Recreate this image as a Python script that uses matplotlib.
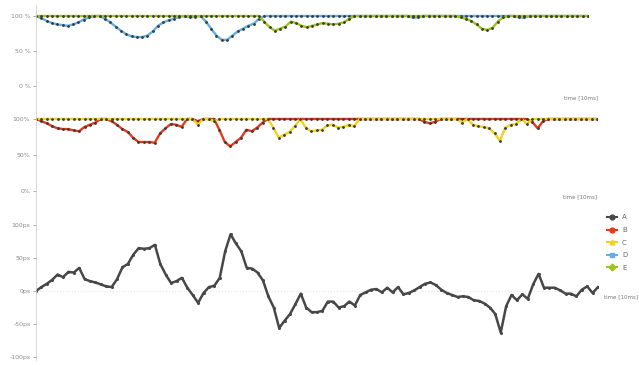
import numpy as np
import matplotlib
matplotlib.use('Agg')
import matplotlib.pyplot as plt
from matplotlib.lines import Line2D

# time axis (samples, unit 10ms)
time = np.arange(105)

# top panel: D and E (percent)
d_pct = [100, 97, 93, 90, 88, 87, 86, 88, 91, 95,
         98, 100, 100, 96, 91, 85, 79, 74, 71, 70,
         70, 72, 78, 86, 91, 94, 96, 99, 100, 98,
         99, 100, 92, 82, 72, 66, 66, 72, 78, 82,
         86, 89, 96, 100, 100, 100, 100, 100, 100, 100,
         100, 100, 100, 100, 100, 100, 100, 100, 100, 100,
         100, 100, 100, 100, 100, 100, 100, 100, 100, 100,
         100, 98, 98, 100, 100, 100, 100, 100, 100, 100,
         100, 100, 100, 100, 100, 100, 100, 100, 100, 100,
         100, 98, 98, 100, 100, 100, 100, 100, 100, 100,
         100, 100, 100, 100, 100]
e_pct = [100, 100, 100, 100, 100, 100, 100, 100, 100, 100,
         100, 100, 100, 100, 100, 100, 100, 100, 100, 100,
         100, 100, 100, 100, 100, 100, 100, 100, 100, 100,
         100, 100, 100, 100, 100, 100, 100, 100, 100, 100,
         100, 100, 100, 92, 84, 79, 82, 85, 92, 90,
         86, 84, 86, 88, 90, 89, 88, 89, 91, 96,
         100, 100, 100, 100, 100, 100, 100, 100, 100, 100,
         100, 100, 100, 100, 100, 100, 100, 100, 100, 100,
         98, 96, 93, 88, 82, 80, 83, 92, 98, 100,
         100, 100, 100, 100, 100, 100, 100, 100, 100, 100,
         100, 100, 100, 100, 100]

# middle panel: B and C (percent)
b_pct = [100, 97, 94, 90, 87, 86, 86, 84, 83, 89,
         92, 95, 100, 100, 97, 92, 86, 82, 74, 68,
         68, 68, 67, 80, 87, 93, 92, 89, 100, 100,
         97, 100, 100, 100, 85, 68, 62, 68, 74, 85,
         83, 88, 95, 100, 100, 100, 100, 100, 100, 100,
         100, 100, 100, 100, 100, 100, 100, 100, 100, 100,
         100, 100, 100, 100, 100, 100, 100, 100, 100, 100,
         100, 100, 96, 94, 96, 100, 100, 100, 100, 100,
         100, 100, 100, 100, 100, 100, 100, 100, 100, 100,
         100, 100, 96, 87, 97, 100, 100, 100, 100, 100,
         100, 100, 100, 100, 100]
c_pct = [100, 100, 100, 100, 100, 100, 100, 100, 100, 100,
         100, 100, 100, 100, 100, 100, 100, 100, 100, 100,
         100, 100, 100, 100, 100, 100, 100, 100, 100, 100,
         92, 100, 100, 97, 100, 100, 100, 100, 100, 100,
         100, 100, 100, 100, 88, 74, 78, 82, 90, 100,
         88, 83, 84, 85, 91, 92, 88, 89, 92, 90,
         100, 100, 100, 100, 100, 100, 100, 100, 100, 100,
         100, 100, 100, 100, 100, 100, 100, 100, 100, 95,
         100, 92, 90, 89, 87, 80, 70, 88, 92, 93,
         100, 93, 100, 100, 100, 100, 100, 100, 100, 100,
         100, 100, 100, 100, 100]

# bottom panel: A (ps)
a_ps = [0, 6, 11, 17, 25, 21, 29, 28, 35, 18,
        15, 13, 10, 7, 6, 18, 36, 41, 55, 65,
        64, 65, 70, 41, 25, 12, 15, 20, 5, -6,
        -18, -3, 6, 8, 20, 60, 86, 72, 60, 35,
        34, 28, 16, -8, -25, -56, -45, -35, -20, -4,
        -25, -32, -32, -30, -16, -16, -25, -23, -16, -22,
        -6, -2, 2, 3, -2, 5, -2, 6, -5, -3,
        1, 6, 11, 13, 9, 2, -3, -6, -9, -8,
        -9, -14, -15, -19, -25, -35, -63, -23, -6, -14,
        -5, -12, 10, 26, 5, 5, 5, 1, -4, -4,
        -8, 2, 7, -3, 6]

labels = ['A', 'B', 'C', 'D', 'E']
colors = {'A': '#474747', 'B': '#e8381b', 'C': '#f3d11c',
          'D': '#62afe0', 'E': '#9dc41d'}
legend_markers = {'A': 'o', 'B': 'o', 'C': '^', 'D': 's', 'E': 'D'}
DOT = '#3a3a3a'
TXT = '#8a8a8a'

fig = plt.figure(figsize=(6.39, 3.65), dpi=100)
left = 36 / 639.
ax1 = fig.add_axes([left, 1 - 105 / 365., 552 / 639., 100 / 365.])
ax2 = fig.add_axes([left, 1 - 200 / 365., 561 / 639., 95 / 365.])
ax3 = fig.add_axes([left, 5 / 365., 562 / 639., 160 / 365.])


def _style(ax, ticks, ticklabels):
    for s in ('top', 'right', 'bottom'):
        ax.spines[s].set_visible(False)
    ax.spines['left'].set_color('#d0d0d0')
    ax.spines['left'].set_linewidth(0.6)
    ax.set_xticks([])
    ax.set_yticks(ticks)
    ax.set_yticklabels(ticklabels)
    ax.tick_params(axis='y', labelsize=4.5, colors=TXT, length=2,
                   width=0.5, pad=2)
    ax.set_xlim(0, 104)


def _series(ax, y, key):
    ax.plot(time, y, color=colors[key], lw=1.7, marker='o', ms=1.0,
            mfc=DOT, mec=DOT, solid_joinstyle='round')


_series(ax1, d_pct, 'D')
_series(ax1, e_pct, 'E')
_style(ax1, [0, 50, 100], ['0 %', '50 %', '100 %'])
ax1.set_ylim(-27, 115.7)
ax1.text(1.018, 0.07, 'time [10ms]', transform=ax1.transAxes, ha='right',
         va='center', fontsize=4, color='#777777')

_series(ax2, b_pct, 'B')
_series(ax2, c_pct, 'C')
_style(ax2, [0, 50, 100], ['0%', '50%', '100%'])
ax2.set_ylim(-12.5, 119.4)
ax2.text(1.0, 0.03, 'time [10ms]', transform=ax2.transAxes, ha='right',
         va='center', fontsize=4, color='#777777')

ax3.axhline(0, color='#e6e6e6', lw=0.8, ls=':')
ax3.plot(time, a_ps, color=colors['A'], lw=1.8, marker='o', ms=1.2,
         mfc=colors['A'], mec=colors['A'])
_style(ax3, [-100, -50, 0, 50, 100],
       ['-100ps', '-50ps', '0ps', '50ps', '100ps'])
ax3.set_ylim(-104.5, 137.9)
ax3.text(1.01, -9, 'time [10ms]', transform=ax3.get_yaxis_transform(),
         ha='left', va='center', fontsize=4, color='#777777', clip_on=False)

handles = [Line2D([], [], color=colors[k], lw=1.5, marker=legend_markers[k],
                  ms=3.5, mfc=colors[k], mec=colors[k]) for k in labels]
fig.legend(handles, labels, loc='upper left',
           bbox_to_anchor=(604 / 639., 1 - 211 / 365.), frameon=False,
           fontsize=5, handlelength=1.3, handletextpad=0.8,
           labelspacing=0.95, borderpad=0, labelcolor='#666666')

fig.savefig('out.png', dpi=100, facecolor='white')
